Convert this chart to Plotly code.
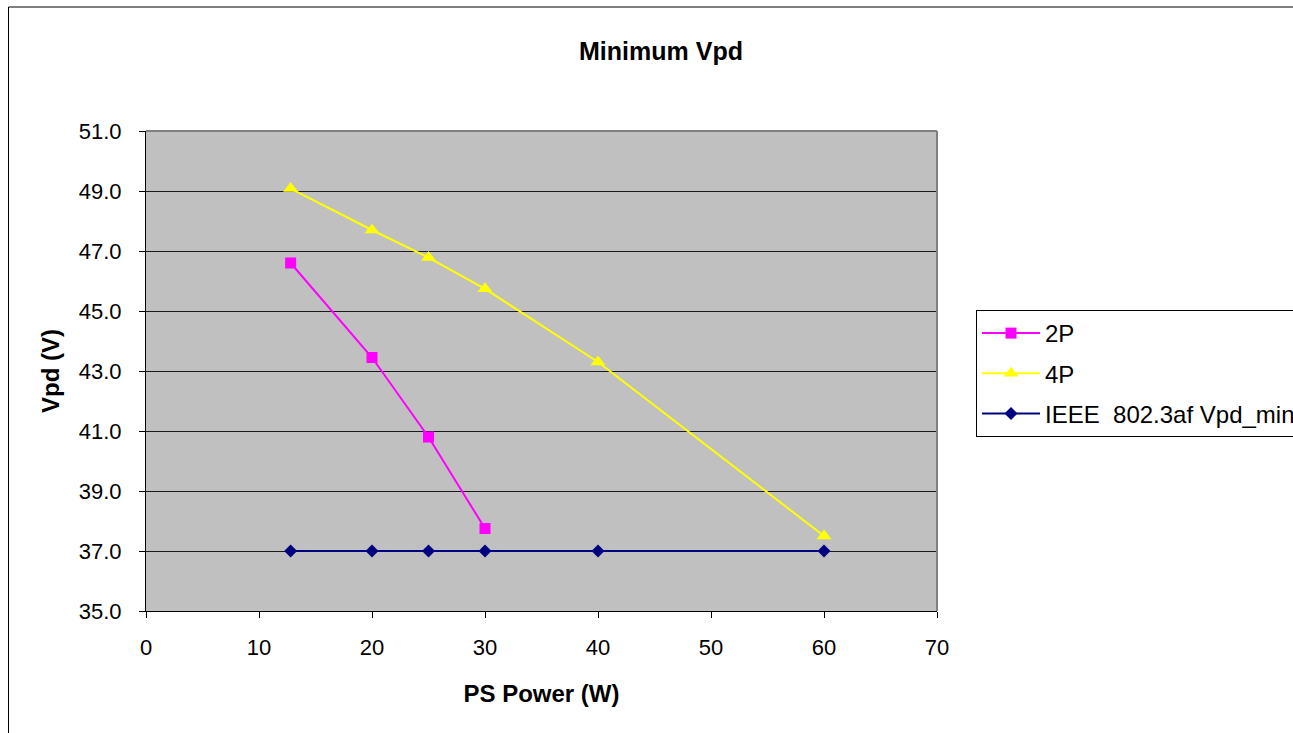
import plotly.graph_objects as go

# ---- data ----
power_2p = [12.8, 20, 25, 30]
vpd_2p = [46.6, 43.45, 40.8, 37.75]

power_4p = [12.8, 20, 25, 30, 40, 60]
vpd_4p = [49.08, 47.7, 46.78, 45.74, 43.3, 37.5]

power_ieee = [12.8, 20, 25, 30, 40, 60]
vpd_ieee = [37.0, 37.0, 37.0, 37.0, 37.0, 37.0]

x_ticks = [0, 10, 20, 30, 40, 50, 60, 70]
y_ticks = [35, 37, 39, 41, 43, 45, 47, 49, 51]

FONT = "Liberation Sans, Arial, sans-serif"

W, H = 1293, 733
L, R, T, B = 146, 356, 131, 122
pw = W - L - R
ph = H - T - B


def px(xp):
    return (xp - L) / pw


def py(yp):
    return (H - B - yp) / ph


fig = go.Figure()
fig.add_trace(go.Scatter(
    x=power_2p, y=vpd_2p, name="2P", mode="lines+markers",
    line=dict(color="#FF00FF", width=2),
    marker=dict(symbol="square", size=11, color="#FF00FF", line=dict(width=0)),
    legendgroup="a",
))
fig.add_trace(go.Scatter(
    x=power_4p, y=vpd_4p, name="4P", mode="lines+markers",
    line=dict(color="#FFFF00", width=2),
    marker=dict(symbol="triangle-up", size=13, color="#FFFF00", line=dict(width=0)),
    legendgroup="b",
))
fig.add_trace(go.Scatter(
    x=power_ieee, y=vpd_ieee, name="IEEE  802.3af Vpd_min", mode="lines+markers",
    line=dict(color="#000080", width=2),
    marker=dict(symbol="diamond", size=10, color="#000080", line=dict(width=0)),
    legendgroup="c",
))

fig.update_layout(
    width=W, height=H,
    margin=dict(l=L, r=R, t=T, b=B, autoexpand=False),
    paper_bgcolor="white",
    plot_bgcolor="#C0C0C0",
    font=dict(family=FONT, color="black", size=22),
    title=dict(
        text="<b>Minimum Vpd</b>",
        font=dict(family=FONT, size=25, color="black"),
        x=px(661), xref="paper", xanchor="center",
        y=1 - 51 / H, yref="container", yanchor="middle",
    ),
    showlegend=True,
    legend=dict(
        x=px(976), y=py(310), xanchor="left", yanchor="top",
        bgcolor="white", bordercolor="black", borderwidth=1,
        font=dict(family=FONT, size=24, color="black"),
        traceorder="grouped", tracegroupgap=6,
        itemwidth=58,
    ),
    xaxis=dict(
        range=[0, 70], tickvals=x_ticks, ticktext=[str(v) for v in x_ticks],
        showgrid=False, zeroline=False,
        showline=True, linecolor="black", linewidth=1,
        ticks="outside", ticklen=6, tickcolor="black", tickwidth=1,
        tickfont=dict(family=FONT, size=22, color="black"),
        ticklabelstandoff=11,
        title=dict(text="<b>PS Power (W)</b>", font=dict(family=FONT, size=24, color="black"), standoff=25),
    ),
    yaxis=dict(
        range=[35, 51], tickvals=y_ticks, ticktext=[f"{v:.1f}" for v in y_ticks],
        showgrid=True, gridcolor="#1a1a1a", gridwidth=1, zeroline=False,
        showline=True, linecolor="black", linewidth=1,
        ticks="outside", ticklen=6, tickcolor="black", tickwidth=1,
        tickfont=dict(family=FONT, size=22, color="black"),
        ticklabelstandoff=13,
        title=dict(text="<b>Vpd (V)</b>", font=dict(family=FONT, size=24, color="black"), standoff=12),
    ),
    shapes=[
        # outer chart border (extends beyond the visible page on right/bottom)
        dict(type="rect", xref="paper", yref="paper",
             x0=px(8.5), x1=px(1400), y0=py(7), y1=py(800),
             line=dict(color="black", width=1), fillcolor="rgba(0,0,0,0)", layer="below"),
        # gray plot-area frame (top and right)
        dict(type="line", xref="paper", yref="paper", x0=0, x1=1, y0=1, y1=1,
             line=dict(color="#808080", width=2)),
        dict(type="line", xref="paper", yref="paper", x0=1, x1=1, y0=0, y1=1,
             line=dict(color="#808080", width=2)),
    ],
)

fig.write_html(
    "out.html",
    config={"displayModeBar": False},
    post_script="document.body.style.margin='0';document.body.style.overflow='hidden';",
)
